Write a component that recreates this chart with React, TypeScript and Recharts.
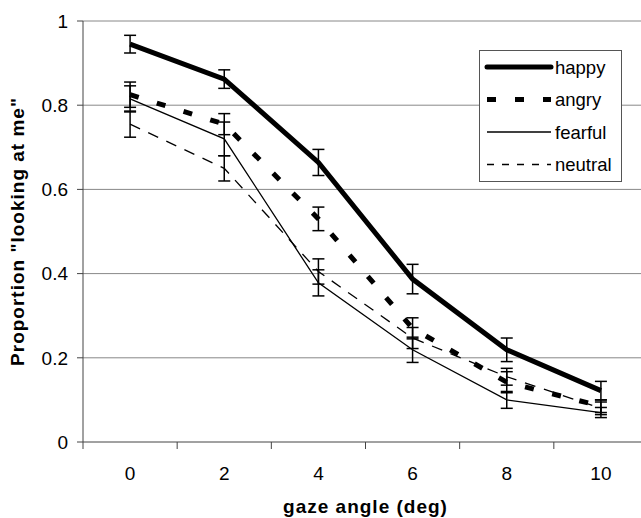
import React from 'react';
import { LineChart, Line, XAxis, YAxis, CartesianGrid, ErrorBar, Legend } from 'recharts';

const angles = [0, 2, 4, 6, 8, 10];
const happy = [0.945, 0.862, 0.664, 0.387, 0.219, 0.122];
const happyErr = [0.021, 0.022, 0.031, 0.035, 0.028, 0.022];
const angry = [0.825, 0.755, 0.53, 0.27, 0.142, 0.085];
const angryErr = [0.03, 0.025, 0.028, 0.025, 0.025, 0.015];
const fearful = [0.815, 0.72, 0.378, 0.219, 0.1, 0.07];
const fearfulErr = [0.031, 0.04, 0.031, 0.03, 0.02, 0.012];
const neutral = [0.755, 0.65, 0.405, 0.247, 0.155, 0.08];
const neutralErr = [0.031, 0.03, 0.03, 0.025, 0.02, 0.015];

const yTicks = [0, 0.2, 0.4, 0.6, 0.8, 1];
const xTicks = [-1, 0, 1, 2, 3, 4, 5, 6, 7, 8, 9, 10, 11];

const data = angles.map((a, i) => ({
  angle: a,
  happy: happy[i],
  happyErr: happyErr[i],
  angry: angry[i],
  angryErr: angryErr[i],
  fearful: fearful[i],
  fearfulErr: fearfulErr[i],
  neutral: neutral[i],
  neutralErr: neutralErr[i],
}));

const FONT = '"Liberation Sans", Arial, sans-serif';

const legendItems = [
  { name: 'happy', width: 5, dash: undefined as string | undefined, cap: 'round' },
  { name: 'angry', width: 5, dash: '9 19', cap: 'butt' },
  { name: 'fearful', width: 1.3, dash: undefined, cap: 'butt' },
  { name: 'neutral', width: 1.3, dash: '7 8', cap: 'butt' },
];

const LegendBox = () => (
  <svg width={143} height={132} style={{ display: 'block' }}>
    <rect x={0.5} y={0.5} width={142} height={131} fill="#fff" stroke="#555" strokeWidth={1} />
    {legendItems.map((it, i) => {
      const cy = 17 + i * 32.5;
      return (
        <g key={it.name}>
          <line x1={8} x2={72} y1={cy} y2={cy} stroke="#000" strokeWidth={it.width}
            strokeDasharray={it.dash} strokeLinecap={it.cap as any} />
          <text x={76} y={cy} dominantBaseline="central" fontFamily={FONT} fontSize={18.5} fill="#000">{it.name}</text>
        </g>
      );
    })}
  </svg>
);

const XTick = (props: any) => {
  const { x, y, payload } = props;
  const v = payload.value;
  if (Math.abs(v % 2) === 1) {
    return <line x1={x} x2={x} y1={y} y2={y + 7} stroke="#444" strokeWidth={1} />;
  }
  if (v < 0 || v > 10) return null;
  return (
    <text x={x} y={y + 31} textAnchor="middle" dominantBaseline="central" fontFamily={FONT} fontSize={19} fill="#000">
      {v}
    </text>
  );
};

export default function App() {
  return (
    <div style={{ position: 'absolute', left: 0, top: 0, width: 641, height: 518, overflow: 'hidden', background: '#fff' }}>
      <LineChart width={660} height={518} data={data} margin={{ top: 21, right: 12, bottom: 0, left: 0 }}>
        <CartesianGrid vertical={false} horizontal={true} stroke="#888" strokeWidth={1} horizontalValues={[0.2, 0.4, 0.6, 0.8, 1]} />
        <XAxis
          dataKey="angle"
          type="number"
          domain={[-1, 11]}
          ticks={xTicks}
          interval={0}
          allowDataOverflow
          height={76}
          tickLine={false}
          tickSize={0}
          tickMargin={0}
          tick={<XTick />}
          axisLine={{ stroke: '#444', strokeWidth: 1 }}
          label={{ value: 'gaze angle (deg)', position: 'insideBottom', offset: 5, style: { fontFamily: FONT, fontSize: 19, fontWeight: 'bold', letterSpacing: 1, fill: '#000' } }}
        />
        <YAxis
          type="number"
          domain={[0, 1]}
          ticks={yTicks}
          interval={0}
          width={83}
          tickSize={6}
          tickMargin={9}
          tick={{ fontFamily: FONT, fontSize: 19, fill: '#000' }}
          tickLine={{ stroke: '#444' }}
          axisLine={{ stroke: '#444', strokeWidth: 1 }}
          tickFormatter={(v: number) => String(v)}
          label={{ value: 'Proportion "looking at me"', angle: -90, position: 'insideLeft', offset: 17, style: { textAnchor: 'middle', fontFamily: FONT, fontSize: 19, fontWeight: 'bold', letterSpacing: 1, fill: '#000' } }}
        />
        <Legend
          layout="vertical"
          align="center"
          verticalAlign="middle"
          content={() => <LegendBox />}
          wrapperStyle={{ position: 'absolute', left: 479, top: 50, width: 143, height: 132 }}
        />
        <Line dataKey="neutral" type="linear" stroke="#000" strokeWidth={1.3} strokeDasharray="11 9" dot={false} isAnimationActive={false}>
          <ErrorBar dataKey="neutralErr" width={6} stroke="#000" strokeWidth={1.5} direction="y" />
        </Line>
        <Line dataKey="fearful" type="linear" stroke="#000" strokeWidth={1.3} dot={false} isAnimationActive={false}>
          <ErrorBar dataKey="fearfulErr" width={6} stroke="#000" strokeWidth={1.5} direction="y" />
        </Line>
        <Line dataKey="angry" type="linear" stroke="#000" strokeWidth={5} strokeDasharray="9 19" dot={false} isAnimationActive={false}>
          <ErrorBar dataKey="angryErr" width={6} stroke="#000" strokeWidth={1.5} direction="y" />
        </Line>
        <Line dataKey="happy" type="linear" stroke="#000" strokeWidth={5} dot={false} isAnimationActive={false}>
          <ErrorBar dataKey="happyErr" width={6} stroke="#000" strokeWidth={1.5} direction="y" />
        </Line>
      </LineChart>
    </div>
  );
}
